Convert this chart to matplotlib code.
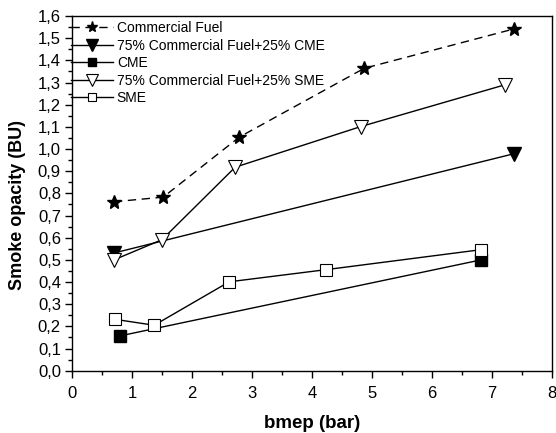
import matplotlib
matplotlib.use("Agg")
import matplotlib.pyplot as plt
from matplotlib.ticker import FuncFormatter, MultipleLocator

plt.rcParams['font.family'] = ['Liberation Sans', 'DejaVu Sans']

# data
x_cf = [0.70, 1.52, 2.79, 4.87, 7.37]
y_cf = [0.762, 0.783, 1.054, 1.364, 1.542]

x_cf_cme = [0.70, 7.37]
y_cf_cme = [0.531, 0.979]

x_cme = [0.80, 6.82]
y_cme = [0.157, 0.500]

x_cf_sme = [0.70, 1.50, 2.72, 4.81, 7.22]
y_cf_sme = [0.500, 0.591, 0.918, 1.101, 1.290]

x_sme = [0.71, 1.37, 2.62, 4.24, 6.82]
y_sme = [0.232, 0.205, 0.401, 0.456, 0.546]

fig = plt.figure(figsize=(5.56, 4.33), dpi=100)
ax = fig.add_axes([72/556, 1 - 370.7/433, 480/556, (370.7-16)/433])

ax.plot(x_cf, y_cf, 'k--', marker='*', ms=10, lw=1, dashes=(6, 4), label='Commercial Fuel')
ax.plot(x_cf_cme, y_cf_cme, 'k-', marker='v', ms=10, lw=1, label='75% Commercial Fuel+25% CME')
ax.plot(x_cme, y_cme, 'k-', marker='s', ms=8, lw=1, label='CME')
ax.plot(x_cf_sme, y_cf_sme, 'k-', marker='v', ms=10, lw=1, mfc='white', mew=0.8,
        label='75% Commercial Fuel+25% SME')
ax.plot(x_sme, y_sme, 'k-', marker='s', ms=8, lw=1, mfc='white', mew=0.8, label='SME')

ax.set_xlim(0, 8)
ax.set_ylim(0, 1.6)
ax.xaxis.set_major_locator(MultipleLocator(1))
ax.xaxis.set_minor_locator(MultipleLocator(0.5))
ax.yaxis.set_major_locator(MultipleLocator(0.1))
ax.yaxis.set_minor_locator(MultipleLocator(0.05))
ax.yaxis.set_major_formatter(FuncFormatter(lambda v, p: f"{v:.1f}".replace('.', ',')))
ax.tick_params(which='major', direction='out', length=5, width=1, labelsize=12)
ax.tick_params(axis='x', which='major', pad=6)
ax.tick_params(axis='y', which='major', pad=3)
ax.tick_params(which='minor', direction='out', length=3, width=1)

for s in ax.spines.values():
    s.set_linewidth(1)

ax.set_xlabel('bmep (bar)', fontsize=13.5, fontweight='bold', labelpad=10)
ax.set_ylabel('Smoke opacity (BU)', fontsize=13, fontweight='bold')
ax.yaxis.set_label_coords(-0.096, 0.467)

ax.legend(loc='upper left', frameon=False, fontsize=10, handlelength=3.0, markerscale=0.8,
          handletextpad=0.3, labelspacing=0.25, borderaxespad=0.0, borderpad=0.1,
          bbox_to_anchor=(-0.005, 0.989))

fig.savefig('out.png', dpi=100)
